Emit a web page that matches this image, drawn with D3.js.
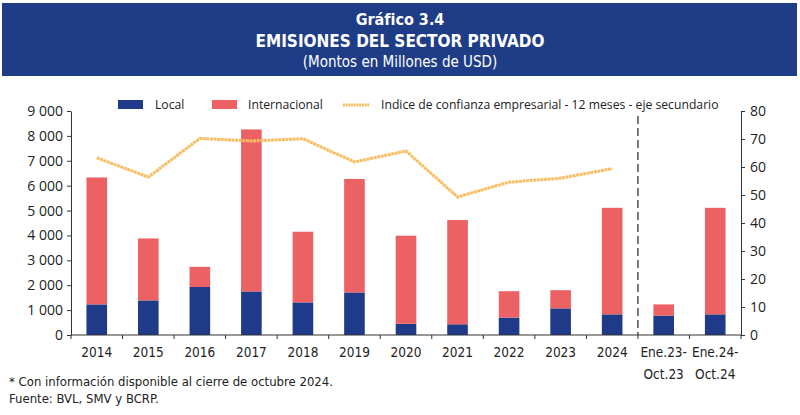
<!DOCTYPE html>
<html lang="es">
<head>
<meta charset="UTF-8">
<title>Emisiones del sector privado</title>
<script src="https://d3js.org/d3.v7.min.js"></script>
<style>
  body { margin: 0; background: #fff; }
  svg { display: block; }
  .axis path, .axis line { stroke: #333; }
  .axis text { font-family: "Open Sans", sans-serif; font-size: 14px; fill: #222; }
  .narrow { font-family: "DejaVu Sans Condensed", "DejaVu Sans", sans-serif; font-stretch: condensed; }
</style>
</head>
<body>
<svg width="800" height="415"></svg>
<script>
  // datos
  const categories = ["2014", "2015", "2016", "2017", "2018", "2019", "2020", "2021", "2022", "2023", "2024", "Ene.23-\nOct.23", "Ene.24-\nOct.24"];
  const local = [1230, 1390, 1930, 1750, 1310, 1710, 450, 430, 700, 1070, 830, 780, 830];
  const internacional = [5100, 2490, 810, 6510, 2840, 4560, 3540, 4190, 1060, 730, 4280, 450, 4280];
  const confianza = [63.3, 56.4, 70.2, 69.3, 70.1, 61.8, 65.7, 49.3, 54.6, 56.0, 59.4];
  const leftTicks = [0, 1000, 2000, 3000, 4000, 5000, 6000, 7000, 8000, 9000];
  const rightTicks = [0, 10, 20, 30, 40, 50, 60, 70, 80];

  const svg = d3.select("svg");
  const blue = "#1f3a88", red = "#ec6264", orange = "#f8bd62";

  // titulo
  svg.append("rect").attr("x", 2).attr("y", 3).attr("width", 795).attr("height", 73).attr("fill", "#1f3d87");
  const title = svg.append("g").attr("fill", "#fff").attr("text-anchor", "middle").attr("class", "narrow");
  title.append("text").attr("x", 400).attr("y", 25).style("font-size", "16px").style("font-weight", "bold").text("Gráfico 3.4");
  title.append("text").attr("x", 400).attr("y", 47).style("font-size", "17px").style("font-weight", "bold").text("EMISIONES DEL SECTOR PRIVADO");
  title.append("text").attr("x", 400).attr("y", 67).style("font-size", "15px").text("(Montos en Millones de USD)");

  const x0 = 71, x1 = 741, yTop = 111, yBot = 335;

  const x = d3.scaleBand().domain(categories).range([x0, x1]).paddingInner(0.6).paddingOuter(0.3);
  const y = d3.scaleLinear().domain([0, 9000]).range([yBot, yTop]);
  const y2 = d3.scaleLinear().domain([0, 80]).range([yBot, yTop]);

  const rows = categories.map((c, i) => ({ cat: c, local: local[i], internacional: internacional[i] }));
  const stack = d3.stack().keys(["local", "internacional"])(rows);
  const colors = { local: blue, internacional: red };

  svg.append("g").selectAll("g").data(stack).join("g")
    .attr("fill", d => colors[d.key])
    .selectAll("rect").data(d => d).join("rect")
    .attr("x", d => x(d.data.cat))
    .attr("width", x.bandwidth())
    .attr("y", d => y(d[1]))
    .attr("height", d => y(d[0]) - y(d[1]));

  // linea de confianza
  const line = d3.line()
    .x((d, i) => x(categories[i]) + x.bandwidth() / 2)
    .y(d => y2(d));
  svg.append("path").datum(confianza)
    .attr("fill", "none").attr("stroke", orange).attr("stroke-width", 3)
    .attr("stroke-dasharray", "3,0.6")
    .attr("d", line);

  // separador
  const step = x.step();
  svg.append("line")
    .attr("x1", x0 + step * 11).attr("x2", x0 + step * 11)
    .attr("y1", 116).attr("y2", yBot)
    .attr("stroke", "#333").attr("stroke-width", 1.3).attr("stroke-dasharray", "8,4");

  const fmt = d => d3.format(",")(d).replace(/,/g, " ");

  svg.append("g").attr("class", "axis").attr("transform", `translate(${x0},0)`)
    .call(d3.axisLeft(y).tickValues(leftTicks).tickFormat(fmt).tickSize(4).tickSizeOuter(0).tickPadding(4));
  svg.append("g").attr("class", "axis").attr("transform", `translate(${x1},0)`)
    .call(d3.axisRight(y2).tickValues(rightTicks).tickSize(4).tickSizeOuter(0).tickPadding(5));

  // eje x: ticks en los limites de las categorias
  const xa = svg.append("g").attr("class", "axis");
  xa.append("line").attr("x1", x0).attr("x2", x1).attr("y1", yBot).attr("y2", yBot).attr("stroke", "#333");
  xa.selectAll(".tk").data(d3.range(categories.length + 1)).join("line")
    .attr("x1", i => x0 + i * step).attr("x2", i => x0 + i * step)
    .attr("y1", yBot).attr("y2", yBot + 4).attr("stroke", "#333");
  xa.selectAll(".lbl").data(categories).join("text")
    .attr("class", "narrow")
    .attr("text-anchor", "middle")
    .style("font-family", "'DejaVu Sans Condensed', 'DejaVu Sans', sans-serif").style("font-size", "13.5px")
    .attr("transform", d => `translate(${x(d) + x.bandwidth() / 2},${yBot + 22})`)
    .each(function(d) {
      d.split("\n").forEach((t, k) => {
        d3.select(this).append("tspan").attr("x", 0).attr("dy", k ? 22 : 0).text(t);
      });
    });

  // leyenda
  const lg = svg.append("g").style("font-family", "'Open Sans', sans-serif").style("font-size", "12.2px").attr("fill", "#222");
  lg.append("rect").attr("x", 118).attr("y", 100).attr("width", 25).attr("height", 9).attr("fill", blue);
  lg.append("text").attr("x", 155).attr("y", 109).text("Local");
  lg.append("rect").attr("x", 212).attr("y", 100).attr("width", 25).attr("height", 9).attr("fill", red);
  lg.append("text").attr("x", 248).attr("y", 109).text("Internacional");
  lg.append("line").attr("x1", 343).attr("x2", 370).attr("y1", 105).attr("y2", 105)
    .attr("stroke", orange).attr("stroke-width", 3).attr("stroke-dasharray", "2,0.7");
  lg.append("text").attr("x", 381).attr("y", 109).text("Indice de confianza empresarial - 12 meses - eje secundario");

  // notas
  const notes = svg.append("g").attr("class", "narrow").style("font-size", "13px").attr("fill", "#222");
  notes.append("text").attr("x", 9).attr("y", 386).text("* Con información disponible al cierre de octubre 2024.");
  notes.append("text").attr("x", 9).attr("y", 403).text("Fuente: BVL, SMV y BCRP.");
</script>
</body>
</html>
